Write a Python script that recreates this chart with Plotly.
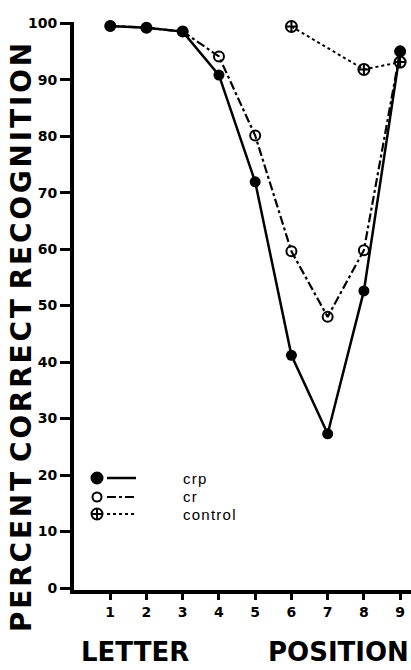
import plotly.graph_objects as go

positions = [1, 2, 3, 4, 5, 6, 7, 8, 9]
crp = [99.5, 99.2, 98.5, 90.8, 71.9, 41.2, 27.3, 52.6, 95.0]
cr = [99.5, 99.2, 98.5, 94.1, 80.1, 59.6, 48.0, 59.8, 95.0]
control_pos = [6, 8, 9]
control = [99.4, 91.8, 93.1]
y_ticks = [0, 10, 20, 30, 40, 50, 60, 70, 80, 90, 100]

W, H = 411, 670
L, R, T, B = 74, 0, 22, 80
PW, PH = W - L - R, H - T - B

def px(x):
    return (x - L) / PW

def py(y):
    return (H - B - y) / PH

FONT = "DejaVu Sans"
HS = "\u200a"

def spaced(s):
    return HS.join(s)

fig = go.Figure()

fig.add_trace(go.Scatter(x=positions, y=crp, mode="lines+markers", cliponaxis=False,
                         line=dict(color="black", width=2.5),
                         marker=dict(symbol="circle", size=11, color="black")))
fig.add_trace(go.Scatter(x=positions, y=cr, mode="lines+markers", cliponaxis=False,
                         line=dict(color="black", width=2.2, dash="dashdot"),
                         marker=dict(symbol="circle-open", size=10, color="black",
                                     line=dict(width=2, color="black"))))
fig.add_trace(go.Scatter(x=control_pos, y=control, mode="lines+markers", cliponaxis=False,
                         line=dict(color="black", width=2, dash="dot"),
                         marker=dict(symbol="circle-cross-open", size=11, color="black",
                                     line=dict(width=2, color="black"))))

# custom legend (marker left, line sample right) on an overlay axis in 0..1 units
leg = [("crp", "circle", None, 11, 478), ("cr", "circle-open", "dashdot", 9, 497),
       ("control", "circle-cross-open", "dot", 11, 514)]
for name, sym, dash, size, ypix in leg:
    yy = py(ypix)
    fig.add_trace(go.Scatter(x=[px(97)], y=[yy], mode="markers", xaxis="x2", yaxis="y2",
                             cliponaxis=False,
                             marker=dict(symbol=sym, size=size, color="black",
                                         line=dict(width=2, color="black"))))
    fig.add_trace(go.Scatter(x=[px(107), px(136)], y=[yy, yy], mode="lines", xaxis="x2", yaxis="y2",
                             line=dict(color="black", width=2 if dash else 2.5, dash=dash)))
    fig.add_annotation(x=px(181), y=yy, xref="paper", yref="paper", text=spaced(name),
                       showarrow=False, xanchor="left", yanchor="middle",
                       font=dict(family="Liberation Sans", size=15, color="black"))

fig.add_annotation(x=px(22), y=py(338), xref="paper", yref="paper",
                   text=" ".join(spaced(w) for w in ["PERCENT", "CORRECT", "RECOGNITION"]),
                   textangle=-90, showarrow=False, xanchor="center", yanchor="middle",
                   font=dict(family=FONT, size=28, color="black", weight="bold"))
fig.add_annotation(x=px(135), y=py(652), xref="paper", yref="paper", text="LETTER",
                   showarrow=False, xanchor="center", yanchor="middle",
                   font=dict(family=FONT, size=26, color="black", weight="bold"))
fig.add_annotation(x=px(338), y=py(652), xref="paper", yref="paper", text="POSITION",
                   showarrow=False, xanchor="center", yanchor="middle",
                   font=dict(family=FONT, size=26, color="black", weight="bold"))

fig.update_layout(
    width=W, height=H, showlegend=False,
    margin=dict(l=L, r=R, t=T, b=B, autoexpand=False),
    paper_bgcolor="white", plot_bgcolor="white",
    xaxis=dict(range=[0, 9.3], tickvals=positions, showgrid=False, zeroline=False,
               automargin=False,
               showline=True, linecolor="black", linewidth=4,
               ticks="outside", ticklen=6, tickwidth=3, tickcolor="black",
               ticklabelstandoff=0,
               tickfont=dict(family=FONT, size=14, color="black", weight="bold")),
    yaxis=dict(range=[-0.35, 100.2], tickvals=y_ticks, showgrid=False, zeroline=False,
               automargin=False,
               showline=True, linecolor="black", linewidth=4,
               ticks="outside", ticklen=10, tickwidth=3, tickcolor="black",
               ticklabelstandoff=0,
               tickfont=dict(family=FONT, size=14, color="black", weight="bold")),
    xaxis2=dict(range=[0, 1], overlaying="x", visible=False),
    yaxis2=dict(range=[0, 1], overlaying="y", visible=False),
)

fig.write_html("out.html", config={"displayModeBar": False},
               post_script="document.body.style.margin='0';document.body.style.overflow='hidden';")
